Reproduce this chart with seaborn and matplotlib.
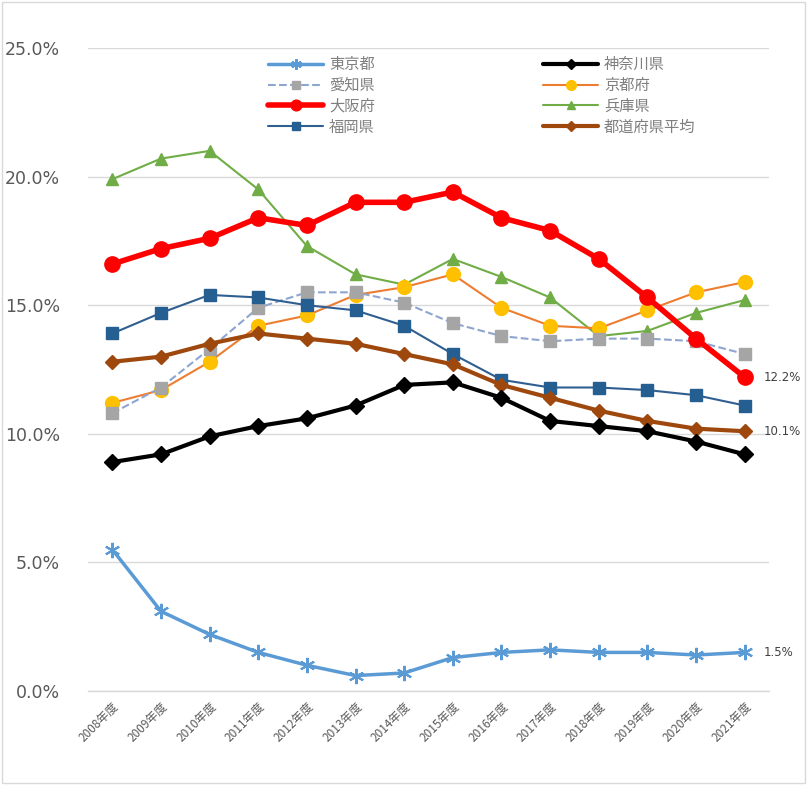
import matplotlib
matplotlib.use("Agg")
import matplotlib.pyplot as plt
import seaborn as sns
import pandas as pd

# ---------------- Data ----------------
years = ["2008年度", "2009年度", "2010年度", "2011年度", "2012年度", "2013年度", "2014年度",
         "2015年度", "2016年度", "2017年度", "2018年度", "2019年度", "2020年度", "2021年度"]

tokyo    = [5.5, 3.1, 2.2, 1.5, 1.0, 0.6, 0.7, 1.3, 1.5, 1.6, 1.5, 1.5, 1.4, 1.5]
kanagawa = [8.9, 9.2, 9.9, 10.3, 10.6, 11.1, 11.9, 12.0, 11.4, 10.5, 10.3, 10.1, 9.7, 9.2]
aichi    = [10.8, 11.8, 13.3, 14.9, 15.5, 15.5, 15.1, 14.3, 13.8, 13.6, 13.7, 13.7, 13.6, 13.1]
kyoto    = [11.2, 11.7, 12.8, 14.2, 14.6, 15.4, 15.7, 16.2, 14.9, 14.2, 14.1, 14.8, 15.5, 15.9]
osaka    = [16.6, 17.2, 17.6, 18.4, 18.1, 19.0, 19.0, 19.4, 18.4, 17.9, 16.8, 15.3, 13.7, 12.2]
hyogo    = [19.9, 20.7, 21.0, 19.5, 17.3, 16.2, 15.8, 16.8, 16.1, 15.3, 13.8, 14.0, 14.7, 15.2]
fukuoka  = [13.9, 14.7, 15.4, 15.3, 15.0, 14.8, 14.2, 13.1, 12.1, 11.8, 11.8, 11.7, 11.5, 11.1]
average  = [12.8, 13.0, 13.5, 13.9, 13.7, 13.5, 13.1, 12.7, 11.9, 11.4, 10.9, 10.5, 10.2, 10.1]

# ---------------- Styles ----------------
# name -> (values, line colour, marker, marker colour, linewidth, markersize, linestyle)
series = {
    "東京都":       (tokyo,    "#5B9BD5", (6, 2, 0), "#5B9BD5", 2.5, 11, "-"),
    "愛知県":       (aichi,    "#8EA5CF", "s",       "#A5A5A5", 1.5, 8,  "--"),
    "大阪府":       (osaka,    "#FF0000", "o",       "#FF0000", 4.0, 11, "-"),
    "福岡県":       (fukuoka,  "#2F5F91", "s",       "#255E91", 1.5, 8,  "-"),
    "神奈川県":     (kanagawa, "#000000", "D",       "#000000", 3.0, 8,  "-"),
    "京都府":       (kyoto,    "#ED7D31", "o",       "#FFC000", 1.5, 10, "-"),
    "兵庫県":       (hyogo,    "#70AD47", "^",       "#70AD47", 1.5, 9,  "-"),
    "都道府県平均": (average,  "#9E480E", "D",       "#9E480E", 3.0, 7,  "-"),
}
draw_order = ["兵庫県", "京都府", "愛知県", "福岡県", "都道府県平均", "神奈川県", "東京都", "大阪府"]

sns.set_theme(style="white")
plt.rcParams["font.family"] = ["Noto Sans CJK JP", "DejaVu Sans"]

fig = plt.figure(figsize=(8.07, 7.85), dpi=100)
ax = fig.add_axes([88 / 807, 1 - 691 / 785, (769 - 88) / 807, (691 - 48) / 785])

x = list(range(len(years)))
handles = {}
for name in draw_order:
    vals, lc, mk, mc, lw, ms, ls = series[name]
    df = pd.DataFrame({"x": x, "y": vals})
    sns.lineplot(data=df, x="x", y="y", ax=ax, color=lc, linewidth=lw, linestyle=ls,
                 marker=mk, markersize=ms, markerfacecolor=mc, markeredgecolor=mc,
                 markeredgewidth=1.5 if name == "東京都" else 1, label=name)
    handles[name] = ax.lines[-1]

ax.set_xlim(-0.5, len(years) - 0.5)
ax.set_ylim(0, 25)
ax.set_yticks([0, 5, 10, 15, 20, 25])
ax.set_yticklabels([f"{v:.1f}%" for v in [0, 5, 10, 15, 20, 25]], fontsize=12.5, color="#595959",
                   family=["DejaVu Sans"])
ax.set_xticks(x)
ax.set_xticklabels(years, rotation=45, ha="right", rotation_mode="anchor", fontsize=8.5, color="#595959")
ax.tick_params(axis="x", length=0, pad=6)
ax.tick_params(axis="y", length=0, pad=20)
ax.set_xlabel("")
ax.set_ylabel("")

ax.yaxis.grid(True, color="#D9D9D9", linewidth=1)
ax.set_axisbelow(True)
for s in ["top", "left", "right"]:
    ax.spines[s].set_visible(False)
ax.spines["bottom"].set_color("#D9D9D9")
ax.spines["bottom"].set_linewidth(1)

# end labels
for vals in [osaka, average, tokyo]:
    ax.annotate(f"{vals[-1]:.1f}%", (x[-1], vals[-1]), xytext=(14, 0), textcoords="offset points",
                va="center", ha="left", fontsize=8.5, color="#404040", family=["DejaVu Sans"])

legend_order = ["東京都", "愛知県", "大阪府", "福岡県", "神奈川県", "京都府", "兵庫県", "都道府県平均"]
ax.legend([handles[n] for n in legend_order], legend_order, ncol=2, frameon=False,
          loc="upper left", bbox_to_anchor=(262 / 807, 1 - 50 / 785), bbox_transform=fig.transFigure,
          borderaxespad=0, fontsize=11, handlelength=3.6, columnspacing=11, labelspacing=0.25,
          handletextpad=0.4, labelcolor="#7F7F7F", markerscale=0.7)

fig.patches.append(plt.Rectangle((0.002, 0.002), 0.996, 0.996, transform=fig.transFigure,
                                 fill=False, edgecolor="#D9D9D9", linewidth=1))

fig.savefig("out.png", dpi=100)
